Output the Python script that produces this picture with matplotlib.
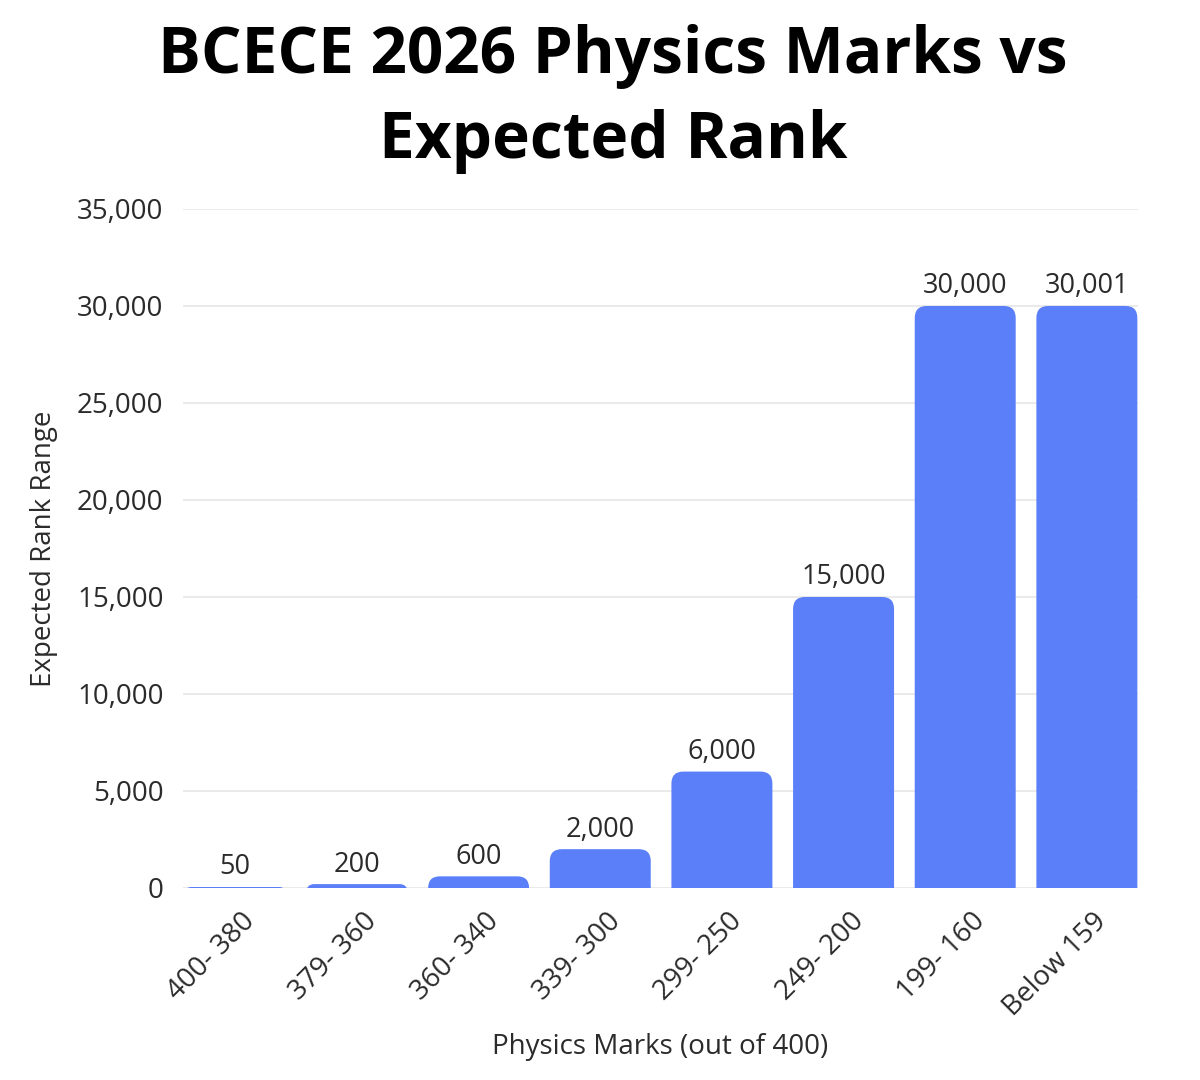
import matplotlib.pyplot as plt
import matplotlib.transforms as mtransforms
from matplotlib.patches import FancyBboxPatch
from matplotlib.ticker import FuncFormatter

plt.rcParams['font.family'] = ['Open Sans', 'DejaVu Sans']

categories = ['400- 380', '379- 360', '360- 340', '339- 300', '299- 250',
              '249- 200', '199- 160', 'Below 159']
ranks = [50, 200, 600, 2000, 6000, 15000, 30000, 30001]
rank_labels = ['50', '200', '600', '2,000', '6,000', '15,000', '30,000', '30,001']

bar_color = '#5b7ff8'
text_color = '#2b2b2b'

fig = plt.figure(figsize=(12, 10.8), dpi=100)
ax = fig.add_axes([0.1525, 0.1778, 0.7958, 0.6287])

x = list(range(len(categories)))
bars = ax.bar(x, ranks, width=0.83, color=bar_color, alpha=0)

ax.set_xlim(-0.43, 7.42)
ax.set_ylim(0, 35000)

# rounded tops: box starts below zero so the bottom corners get clipped
px_x = 0.83 / 101.0
px_y = 35000 / 679.0
aspect = px_y / px_x
r_px = 12
for b in bars:
    h = b.get_height()
    r = min(r_px, (h / px_y + r_px) / 2.0)
    y0 = -r * px_y
    box = FancyBboxPatch((b.get_x(), y0), b.get_width(), h - y0,
                         boxstyle='round,pad=0,rounding_size=%f' % (r * px_x),
                         mutation_aspect=aspect, facecolor=bar_color,
                         edgecolor='none', zorder=3, clip_on=True)
    ax.add_patch(box)

for xi, h, lab in zip(x, ranks, rank_labels):
    ax.annotate(lab, (xi, h), xytext=(0, 4), textcoords='offset points',
                ha='center', va='bottom', fontsize=19.5, color=text_color)

ax.set_yticks(range(0, 35001, 5000))
ax.yaxis.set_major_formatter(FuncFormatter(lambda v, p: '{:,.0f}'.format(v)))
ax.grid(axis='y', color='#e6e6e6', linewidth=1.2, zorder=0)
ax.set_axisbelow(True)
for s in ax.spines.values():
    s.set_visible(False)
ax.tick_params(axis='both', length=0, labelsize=20, colors=text_color)
ax.tick_params(axis='y', pad=14)

ax.set_xticks(x)
ax.set_xticklabels(categories, rotation=45, ha='right', va='top',
                   rotation_mode='anchor', fontsize=20)
ax.tick_params(axis='x', pad=14)
shift = mtransforms.ScaledTranslation(6 / 100, 0, fig.dpi_scale_trans)
for lbl in ax.get_xticklabels():
    lbl.set_transform(lbl.get_transform() + shift)

ax.set_xlabel('Physics Marks (out of 400)', fontsize=20, color=text_color, labelpad=8)
ax.set_ylabel('Expected Rank Range', fontsize=20, color=text_color, labelpad=14)

fig.text(0.511, 0.978, 'BCECE 2026 Physics Marks vs\nExpected Rank', ha='center',
         va='top', fontsize=46, fontweight='bold', color='black', linespacing=1.42)

fig.savefig('out.png', dpi=100)
